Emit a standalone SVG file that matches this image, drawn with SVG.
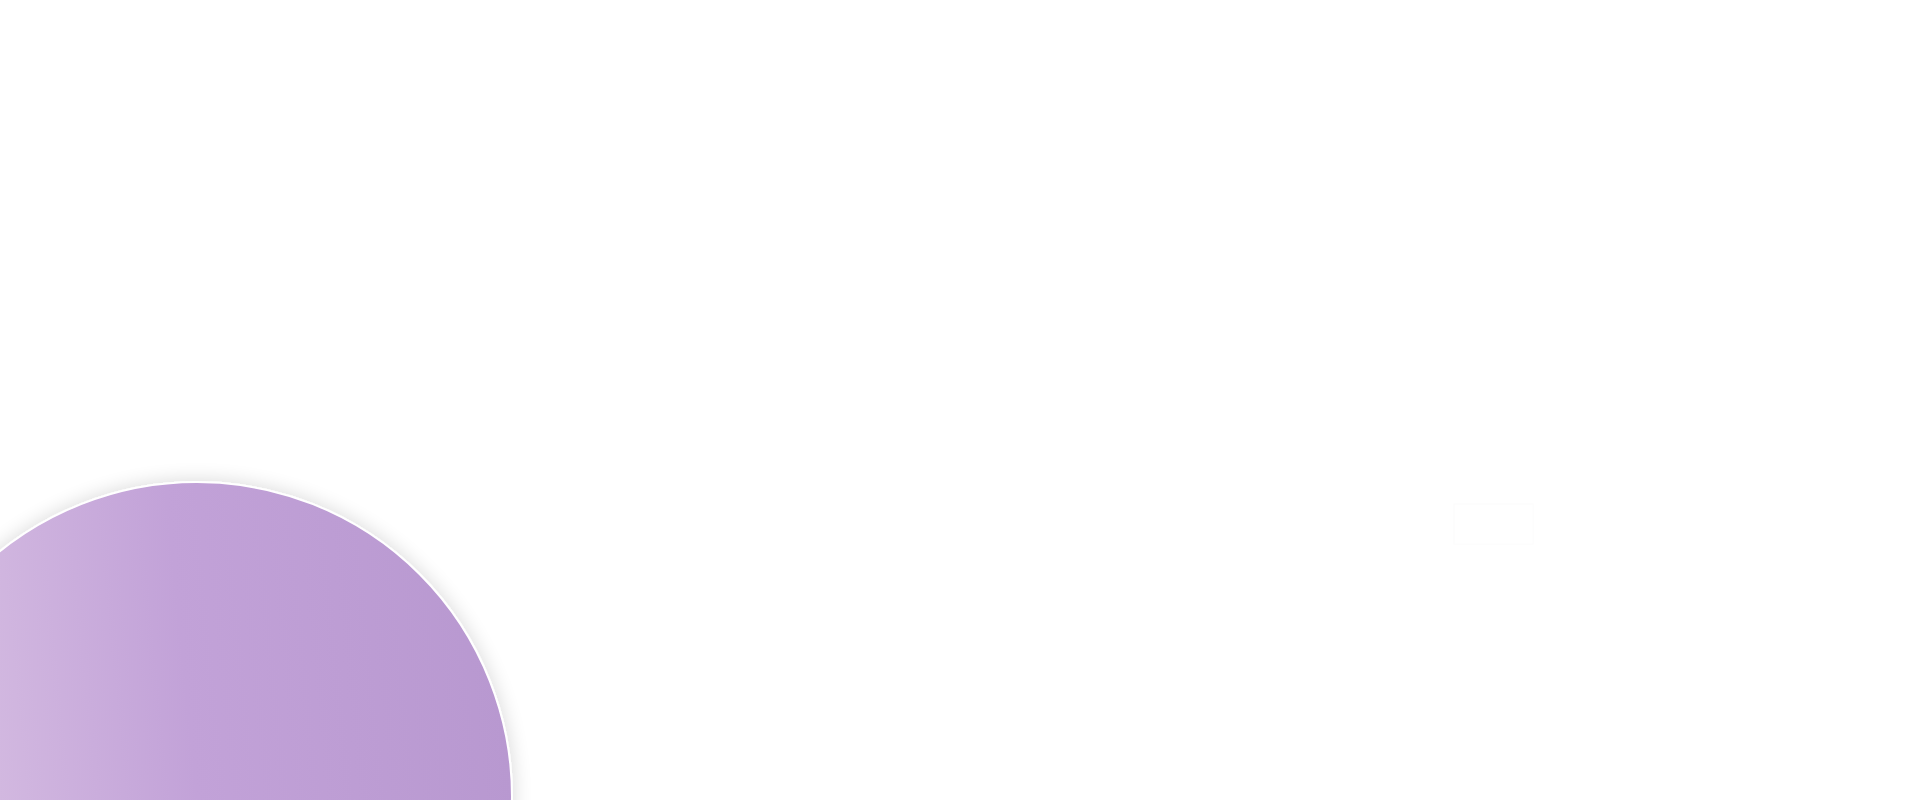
<svg xmlns="http://www.w3.org/2000/svg" width="1930" height="800" viewBox="0 0 1930 800">
<defs>
<linearGradient id="g" x1="0" y1="0.55" x2="1" y2="0.45">
<stop offset="0" stop-color="#dcc6e6"/>
<stop offset="0.19" stop-color="#d2b8e0"/>
<stop offset="0.5" stop-color="#c2a2d8"/>
<stop offset="1" stop-color="#b898d0"/>
</linearGradient>
<filter id="sh" x="-20%" y="-20%" width="140%" height="140%">
<feGaussianBlur in="SourceAlpha" stdDeviation="10"/>
<feComponentTransfer><feFuncA type="linear" slope="0.16"/></feComponentTransfer>
<feMerge><feMergeNode/><feMergeNode in="SourceGraphic"/></feMerge>
</filter>
</defs>
<style>
.node{stroke:#ffffff;stroke-width:2}
.faint{fill:#ffffff;stroke:#fcfcfc;stroke-width:1}
</style>
<rect width="1930" height="800" fill="#ffffff"/>
<g id="node-circle">
<circle class="node" cx="197" cy="797" r="315" fill="url(#g)" filter="url(#sh)"/>
</g>
<g id="node-box">
<rect class="faint" x="1454" y="504" width="79" height="40"/>
</g>
<g id="connectors"></g>
</svg>
